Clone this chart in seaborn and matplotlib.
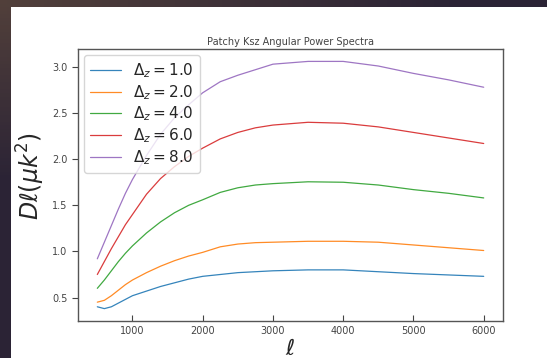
import numpy as np
import pandas as pd
import matplotlib
matplotlib.use("Agg")
import matplotlib.pyplot as plt
from matplotlib.patches import Rectangle
import seaborn as sns

# Multipole moments at which the spectra are tabulated
ell = [500, 600, 700, 800, 900, 1000, 1200, 1400, 1600, 1800, 2000,
       2250, 2500, 2750, 3000, 3500, 4000, 4500, 5000, 5500, 6000]

# D_ell (muK^2) for each reionization duration Delta_z
dl_dz1 = [0.40, 0.38, 0.40, 0.44, 0.48, 0.52, 0.57, 0.62, 0.66, 0.70, 0.73,
          0.75, 0.77, 0.78, 0.79, 0.80, 0.80, 0.78, 0.76, 0.745, 0.73]
dl_dz2 = [0.45, 0.47, 0.52, 0.58, 0.64, 0.69, 0.77, 0.84, 0.90, 0.95, 0.99,
          1.05, 1.08, 1.095, 1.10, 1.11, 1.11, 1.10, 1.07, 1.04, 1.01]
dl_dz4 = [0.60, 0.69, 0.79, 0.89, 0.98, 1.06, 1.20, 1.32, 1.42, 1.50, 1.56,
          1.64, 1.69, 1.72, 1.735, 1.755, 1.75, 1.72, 1.67, 1.63, 1.58]
dl_dz6 = [0.75, 0.89, 1.03, 1.16, 1.29, 1.40, 1.62, 1.79, 1.92, 2.03, 2.12,
          2.22, 2.29, 2.34, 2.37, 2.40, 2.39, 2.35, 2.29, 2.23, 2.17]
dl_dz8 = [0.92, 1.10, 1.28, 1.46, 1.63, 1.78, 2.04, 2.27, 2.45, 2.59, 2.72,
          2.84, 2.91, 2.97, 3.03, 3.06, 3.06, 3.01, 2.93, 2.86, 2.78]

labels = [r"$\Delta_z = 1.0$", r"$\Delta_z = 2.0$", r"$\Delta_z = 4.0$",
          r"$\Delta_z = 6.0$", r"$\Delta_z = 8.0$"]
series = [dl_dz1, dl_dz2, dl_dz4, dl_dz6, dl_dz8]

df = pd.concat(
    [pd.DataFrame({"ell": ell, "Dl": s, "model": lab}) for s, lab in zip(series, labels)],
    ignore_index=True,
)

sns.set_style("ticks")

fig = plt.figure(figsize=(5.47, 3.58), dpi=100)

# dark backdrop with a soft gradient
bg = fig.add_axes([0, 0, 1, 1], zorder=-10)
yy, xx = np.mgrid[0:1:100j, 0:1:150j]
w = np.clip(1 - np.hypot(xx * 1.2, yy * 2.0), 0, 1)
c0 = np.array([0.17, 0.14, 0.21])
c1 = np.array([0.32, 0.25, 0.23])
img = c0[None, None, :] * (1 - w[..., None]) + c1[None, None, :] * w[..., None]
bg.imshow(img, aspect="auto", extent=[0, 1, 0, 1], origin="upper")
bg.set_axis_off()
fig.patches.append(Rectangle((11 / 547, 0), 1, 1 - 7 / 358, transform=fig.transFigure,
                             facecolor="white", edgecolor="none", zorder=-5))

ax = fig.add_axes([0.1426, 0.1034, 0.7770, 0.7596])
ax.set_facecolor("white")

sns.lineplot(data=df, x="ell", y="Dl", hue="model", hue_order=labels,
             palette=sns.color_palette("tab10", 5), linewidth=0.9, alpha=0.9, ax=ax)

ax.set_title("Patchy Ksz Angular Power Spectra", fontsize=7, color="#444444", pad=3)
ax.set_xlabel(r"$\ell$", fontsize=16, labelpad=2)
ax.set_ylabel(r"$D\ell(\mu k^2)$", fontsize=17)
ax.yaxis.set_label_coords(-0.072, 0.535)
ax.set_xticks([1000, 2000, 3000, 4000, 5000, 6000])
ax.set_yticks([0.5, 1.0, 1.5, 2.0, 2.5, 3.0])
ax.tick_params(axis="x", direction="in", labelsize=7, length=4, color="#444444", labelcolor="#444444")
ax.tick_params(axis="y", direction="out", labelsize=7, length=4, color="#444444", labelcolor="#444444")
for sp in ax.spines.values():
    sp.set_visible(True)
    sp.set_color("#555555")
    sp.set_linewidth(1.0)

sns.move_legend(ax, "upper left", title=None, fontsize=11, framealpha=0.8,
                borderaxespad=0.4, handlelength=2.0, labelspacing=0.2)

fig.savefig("out.png", dpi=100)
